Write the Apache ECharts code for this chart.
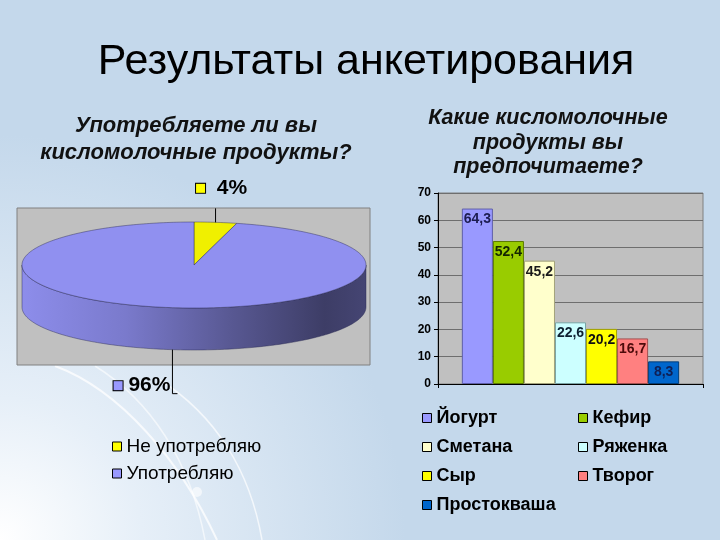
<!DOCTYPE html>
<html><head><meta charset="utf-8">
<script src="https://cdn.jsdelivr.net/npm/echarts@6/dist/echarts.min.js"></script>
<style>html,body{margin:0;padding:0;background:#c5d9eb}#c{width:720px;height:540px}</style>
</head><body><div id="c"></div>
<script>
// ---- data ----
const pageTitle = 'Результаты анкетирования';
const pieTitle = 'Употребляете ли вы\nкисломолочные продукты?';
const barTitle = 'Какие кисломолочные\nпродукты вы\nпредпочитаете?';
const pieNames = ['Не употребляю', 'Употребляю'];
const pieValues = [4, 96];
const barNames = ['Йогурт', 'Кефир', 'Сметана', 'Ряженка', 'Сыр', 'Творог', 'Простокваша'];
const barValues = [64.3, 52.4, 45.2, 22.6, 20.2, 16.7, 8.3];
const yTicks = [0, 10, 20, 30, 40, 50, 60, 70];
const legendLeftCol = ['Йогурт', 'Сметана', 'Сыр', 'Простокваша'];
const legendRightCol = ['Кефир', 'Ряженка', 'Творог'];

// ---- styles ----
const FONT = "'Liberation Sans', Arial, sans-serif";
const pieColors = ['#ffff00', '#9999ff'];
const barColors = ['#9999ff', '#99cc00', '#ffffcc', '#ccffff', '#ffff00', '#ff8080', '#0066cc'];
const barBorders = ['#5f5fa8', '#5c7a00', '#a3a37a', '#7aa3a3', '#a3a300', '#a35050', '#003d7a'];
const barLabelColors = ['#1c1c50', '#142600', '#1a1a1a', '#0d2030', '#111111', '#4d0a0a', '#0f1f55'];

const PIE = { cx: 194, cy: 265, rx: 172, ry: 43, depth: 42 };

function shade(c, k) {
  const a = echarts.color.parse(c);
  return 'rgb(' + a.slice(0, 3).map(x => Math.round(x * (1 - k))).join(',') + ')';
}
function pt(t, dy) {
  return [PIE.cx + PIE.rx * Math.sin(t), PIE.cy - PIE.ry * Math.cos(t) + (dy || 0)];
}
function arcPts(t0, t1, dy) {
  const n = Math.max(2, Math.ceil((t1 - t0) / 0.02));
  const out = [];
  for (let k = 0; k <= n; k++) out.push(pt(t0 + (t1 - t0) * k / n, dy));
  return out;
}
const total = pieValues.reduce((a, b) => a + b, 0);

function renderSlice(a0, a1, v, i) {
  const color = pieColors[i];
  const children = [];
  const s0 = Math.max(a0, Math.PI / 2), s1 = Math.min(a1, 1.5 * Math.PI);
  if (s1 > s0) {
    const grad = new echarts.graphic.LinearGradient(PIE.cx - PIE.rx, 0, PIE.cx + PIE.rx, 0, [
      { offset: 0, color: shade(color, 0.08) },
      { offset: 0.3, color: shade(color, 0.2) },
      { offset: 0.6, color: shade(color, 0.42) },
      { offset: 0.88, color: shade(color, 0.6) },
      { offset: 1, color: shade(color, 0.55) }
    ], true);
    const top = arcPts(s0, s1, 0);
    const bot = arcPts(s0, s1, PIE.depth).reverse();
    children.push({ type: 'polygon', shape: { points: top.concat(bot) },
      style: { fill: grad, stroke: 'rgba(40,40,80,0.55)', lineWidth: 0.8 } });
  }
  children.push({ type: 'polygon', shape: { points: [[PIE.cx, PIE.cy]].concat(arcPts(a0, a1, 0)) },
    style: { fill: shade(color, 0.06), stroke: 'rgba(40,40,80,0.55)', lineWidth: 0.8 } });

  const mid = (a0 + a1) / 2;
  const pct = Math.round(v / total * 100) + '%';
  const rich = { s: { width: 9, height: 9, backgroundColor: color, borderColor: '#000', borderWidth: 1 } };
  if (Math.cos(mid) >= 0) {
    const e = pt(mid, 0);
    children.push({ type: 'polyline', shape: { points: [e, [e[0], e[1] - 14]] },
      style: { stroke: '#000', lineWidth: 1, fill: null } });
    children.push({ type: 'text', x: e[0] + 6, y: e[1] - 34,
      style: { text: '{s|}  ' + pct, rich: rich, fill: '#000', fontSize: 21, fontWeight: 'bold', fontFamily: FONT,
        align: 'center', verticalAlign: 'middle' } });
  } else {
    const e = pt(mid, PIE.depth);
    const yEnd = e[1] + 44;
    children.push({ type: 'polyline', shape: { points: [e, [e[0], yEnd], [e[0] + 5, yEnd]] },
      style: { stroke: '#000', lineWidth: 1, fill: null } });
    children.push({ type: 'text', x: e[0] - 2, y: yEnd - 8,
      style: { text: '{s|} ' + pct, rich: rich, fill: '#000', fontSize: 21, fontWeight: 'bold', fontFamily: FONT,
        align: 'right', verticalAlign: 'middle' } });
  }
  return { type: 'group', children: children };
}

let acc = 0;
const pieSeries = pieValues.map((v, i) => {
  const a0 = acc / total * 2 * Math.PI; acc += v; const a1 = acc / total * 2 * Math.PI;
  return {
    type: 'custom', name: pieNames[i], coordinateSystem: 'none', z: 3,
    itemStyle: { color: pieColors[i] },
    data: [[a0, a1, v]],
    renderItem: (params, api) => renderSlice(api.value(0), api.value(1), api.value(2), i)
  };
});

const barSeries = barNames.map((n, i) => ({
  type: 'bar', name: n, data: [barValues[i]],
  barGap: '0%', barCategoryGap: '18%',
  itemStyle: { color: barColors[i], borderColor: barBorders[i], borderWidth: 1 },
  label: { show: true, position: 'insideTop', distance: 4,
    formatter: p => String(p.value).replace('.', ','),
    color: barLabelColors[i], fontWeight: 'bold', fontSize: 14, fontFamily: FONT }
}));

const legendBase = {
  orient: 'vertical', icon: 'rect', itemWidth: 9, itemHeight: 9, padding: 0, itemGap: 11,
  selectedMode: false,
  itemStyle: { borderColor: '#000', borderWidth: 1 },
  textStyle: { fontSize: 18, fontWeight: 'bold', color: '#000', fontFamily: FONT, lineHeight: 18 }
};

const chart = echarts.init(document.getElementById('c'));
chart.setOption({
  animation: false,
  backgroundColor: { type: 'radial', x: 0, y: 1, r: 0.75, colorStops: [
    { offset: 0, color: '#ffffff' }, { offset: 0.35, color: '#e6eff8' }, { offset: 1, color: '#c4d8eb' } ] },
  textStyle: { fontFamily: FONT },
  title: [
    { text: pageTitle, left: 366, top: 37, textAlign: 'center', padding: 0,
      textStyle: { fontSize: 43, fontWeight: 'normal', color: '#000', fontFamily: FONT, lineHeight: 50 } },
    { text: pieTitle, left: 196, top: 112, textAlign: 'center', padding: 0,
      textStyle: { fontSize: 22, fontWeight: 'bold', fontStyle: 'italic', color: '#111', fontFamily: FONT, lineHeight: 27 } },
    { text: barTitle, left: 548, top: 106, textAlign: 'center', padding: 0,
      textStyle: { fontSize: 21.5, fontWeight: 'bold', fontStyle: 'italic', color: '#111', fontFamily: FONT, lineHeight: 24.5 } }
  ],
  graphic: [
    { type: 'bezierCurve', z: -10, shape: { x1: 55, y1: 366, cpx1: 120, cpy1: 390, cpx2: 180, cpy2: 460, x2: 217, y2: 540 },
      style: { stroke: 'rgba(255,255,255,0.75)', lineWidth: 2, fill: null } },
    { type: 'bezierCurve', z: -10, shape: { x1: 95, y1: 366, cpx1: 150, cpy1: 400, cpx2: 190, cpy2: 460, x2: 205, y2: 540 },
      style: { stroke: 'rgba(255,255,255,0.6)', lineWidth: 1.5, fill: null } },
    { type: 'bezierCurve', z: -10, shape: { x1: 160, y1: 380, cpx1: 215, cpy1: 415, cpx2: 250, cpy2: 470, x2: 262, y2: 540 },
      style: { stroke: 'rgba(255,255,255,0.7)', lineWidth: 1.5, fill: null } },
    { type: 'circle', z: -10, shape: { cx: 197, cy: 492, r: 5 }, style: { fill: 'rgba(255,255,255,0.6)' } },
    { type: 'rect', z: -5, shape: { x: 17, y: 208, width: 353, height: 157 },
      style: { fill: '#c0c0c0', stroke: '#808080', lineWidth: 1 } }
  ],
  legend: [
    Object.assign({}, legendBase, { data: pieNames, left: 112, top: 437, itemGap: 8,
      textStyle: { fontSize: 19, fontWeight: 'normal', color: '#000', fontFamily: FONT, lineHeight: 18 } }),
    Object.assign({}, legendBase, { data: legendLeftCol, left: 422, top: 409 }),
    Object.assign({}, legendBase, { data: legendRightCol, left: 578, top: 409 })
  ],
  grid: { left: 438, top: 193, width: 265, height: 191, show: true, backgroundColor: '#c0c0c0',
    borderColor: '#808080', borderWidth: 1 },
  xAxis: { type: 'category', data: [''],
    axisLine: { lineStyle: { color: '#000' } },
    axisTick: { show: true, length: 4, lineStyle: { color: '#000' } },
    axisLabel: { show: false } },
  yAxis: { type: 'value', min: yTicks[0], max: yTicks[yTicks.length - 1], interval: yTicks[1] - yTicks[0],
    axisLine: { show: true, lineStyle: { color: '#000' } },
    axisTick: { show: true, length: 4, lineStyle: { color: '#000' } },
    axisLabel: { fontWeight: 'bold', fontSize: 12, color: '#000', margin: 7, fontFamily: FONT },
    splitLine: { lineStyle: { color: '#6e6e6e', width: 1 } } },
  series: pieSeries.concat(barSeries)
});
</script>
</body></html>
